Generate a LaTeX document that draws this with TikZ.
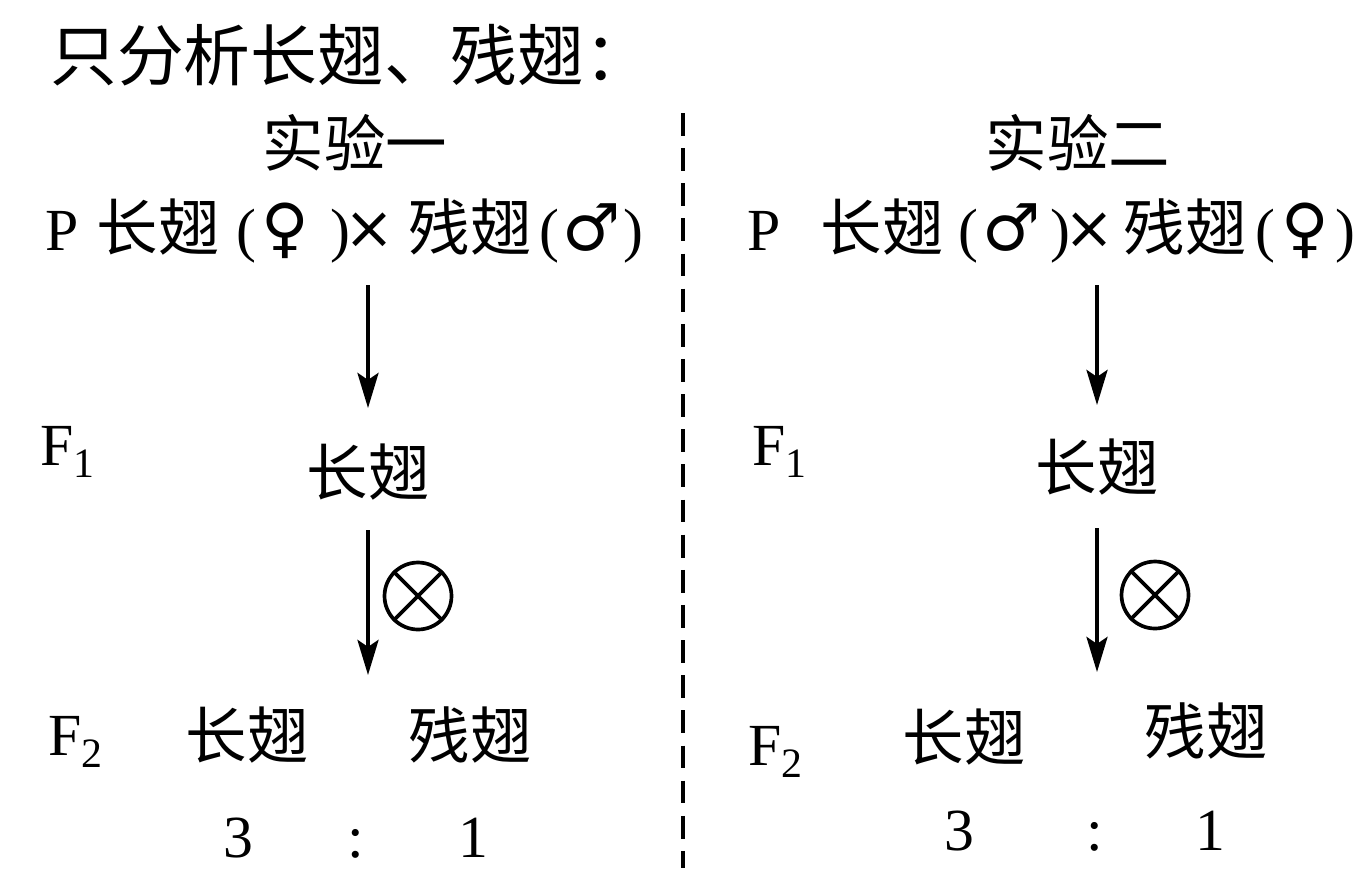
\documentclass[tikz,border=0pt]{standalone}
\usepackage{fontspec}
\setmainfont{Liberation Serif}
\newfontfamily\cjk{Noto Sans CJK SC}
\newfontfamily\sym{DejaVu Sans}
\usetikzlibrary{arrows.meta}

\begin{document}
\begin{tikzpicture}[x=0.02cm,y=-0.02cm,
  every node/.style={inner sep=0,font=\fontsize{34}{40}\selectfont},
  han/.style={font=\cjk\fontsize{35}{42}\selectfont},
  sx/.style={font=\sym\fontsize{37}{44}\selectfont},
  cross/.style={font=\sym\fontsize{34}{40}\selectfont},
  arr/.style={-{Stealth[length=20pt,width=12pt,inset=4pt]},line width=2pt},
  selfx/.style={circle,draw,line width=2.1pt,minimum size=1.34cm},
  sep/.style={line width=1.8pt,dash pattern=on 13pt off 7pt}]
\useasboundingbox(0,0)rectangle(1371,883);
\node[han,font=\cjk\fontsize{38}{44}\selectfont,anchor=west](title)at(50,55){只分析长翅、残翅：};
\draw[sep](683,113)--(683,868);
% experiment one
\node[han](exA)at(355,143){实验一};
\node[anchor=base](pA)at(62,250){P};\node[han,anchor=base](longA)at(158,250){长翅};
\node[anchor=base](oA)at(246,250){(};\node[sx,anchor=base](femA)at(285,250){♀};\node[anchor=base](cA)at(340,250){)};
\node[cross,anchor=base](xA)at(370,248){×};\node[han,anchor=base](vestA)at(470,250){残翅};
\node[anchor=base](o2A)at(549,250){(};\node[sx,anchor=base](malA)at(592,250){♂};\node[anchor=base](c2A)at(633,250){)};
\node[anchor=base west](fA)at(40,465){F\textsubscript{1}};
\node[han](gA)at(368,472){长翅};
\coordinate(sA)at(368,285);\coordinate(eA)at(368,675);
\draw[arr,shorten >=1.28cm](sA)--(gA.center);
\draw[arr,shorten <=1.16cm](gA.center)--(eA);
\node[selfx](uA)at(418,596){};\draw[line width=2.1pt](uA.45)--(uA.225)(uA.135)--(uA.-45);
\node[anchor=base west](hA)at(48,755){F\textsubscript{2}};
\node[han](l2A)at(247,735){长翅};\node[han](v2A)at(470,735){残翅};
\node[anchor=base](nA)at(238,857){3};\node[anchor=base](kA)at(356,857){:};\node[anchor=base](mA)at(473,857){1};
% experiment two
\node[han](exB)at(1078,143){实验二};
\node[anchor=base](pB)at(764,250){P};\node[han,anchor=base](longB)at(882,250){长翅};
\node[anchor=base](oB)at(968,250){(};\node[sx,anchor=base](malB)at(1012,250){♂};\node[anchor=base](cB)at(1060,250){)};
\node[cross,anchor=base](xB)at(1090,248){×};\node[han,anchor=base](vestB)at(1185,250){残翅};
\node[anchor=base](o2B)at(1265,250){(};\node[sx,anchor=base](femB)at(1305,250){♀};\node[anchor=base](c2B)at(1345,250){)};
\node[anchor=base west](fB)at(752,465){F\textsubscript{1}};
\node[han](gB)at(1097,467){长翅};
\coordinate(sB)at(1097,285);\coordinate(eB)at(1097,672);
\draw[arr,shorten >=1.24cm](sB)--(gB.center);
\draw[arr,shorten <=1.22cm](gB.center)--(eB);
\node[selfx](uB)at(1155,595){};\draw[line width=2.1pt](uB.45)--(uB.225)(uB.135)--(uB.-45);
\node[anchor=base west](hB)at(748,765){F\textsubscript{2}};
\node[han](l2B)at(964,737){长翅};\node[han](v2B)at(1206,731){残翅};
\node[anchor=base](nB)at(959,850){3};\node[anchor=base](kB)at(1095,850){:};\node[anchor=base](mB)at(1210,850){1};
\end{tikzpicture}
\end{document}
